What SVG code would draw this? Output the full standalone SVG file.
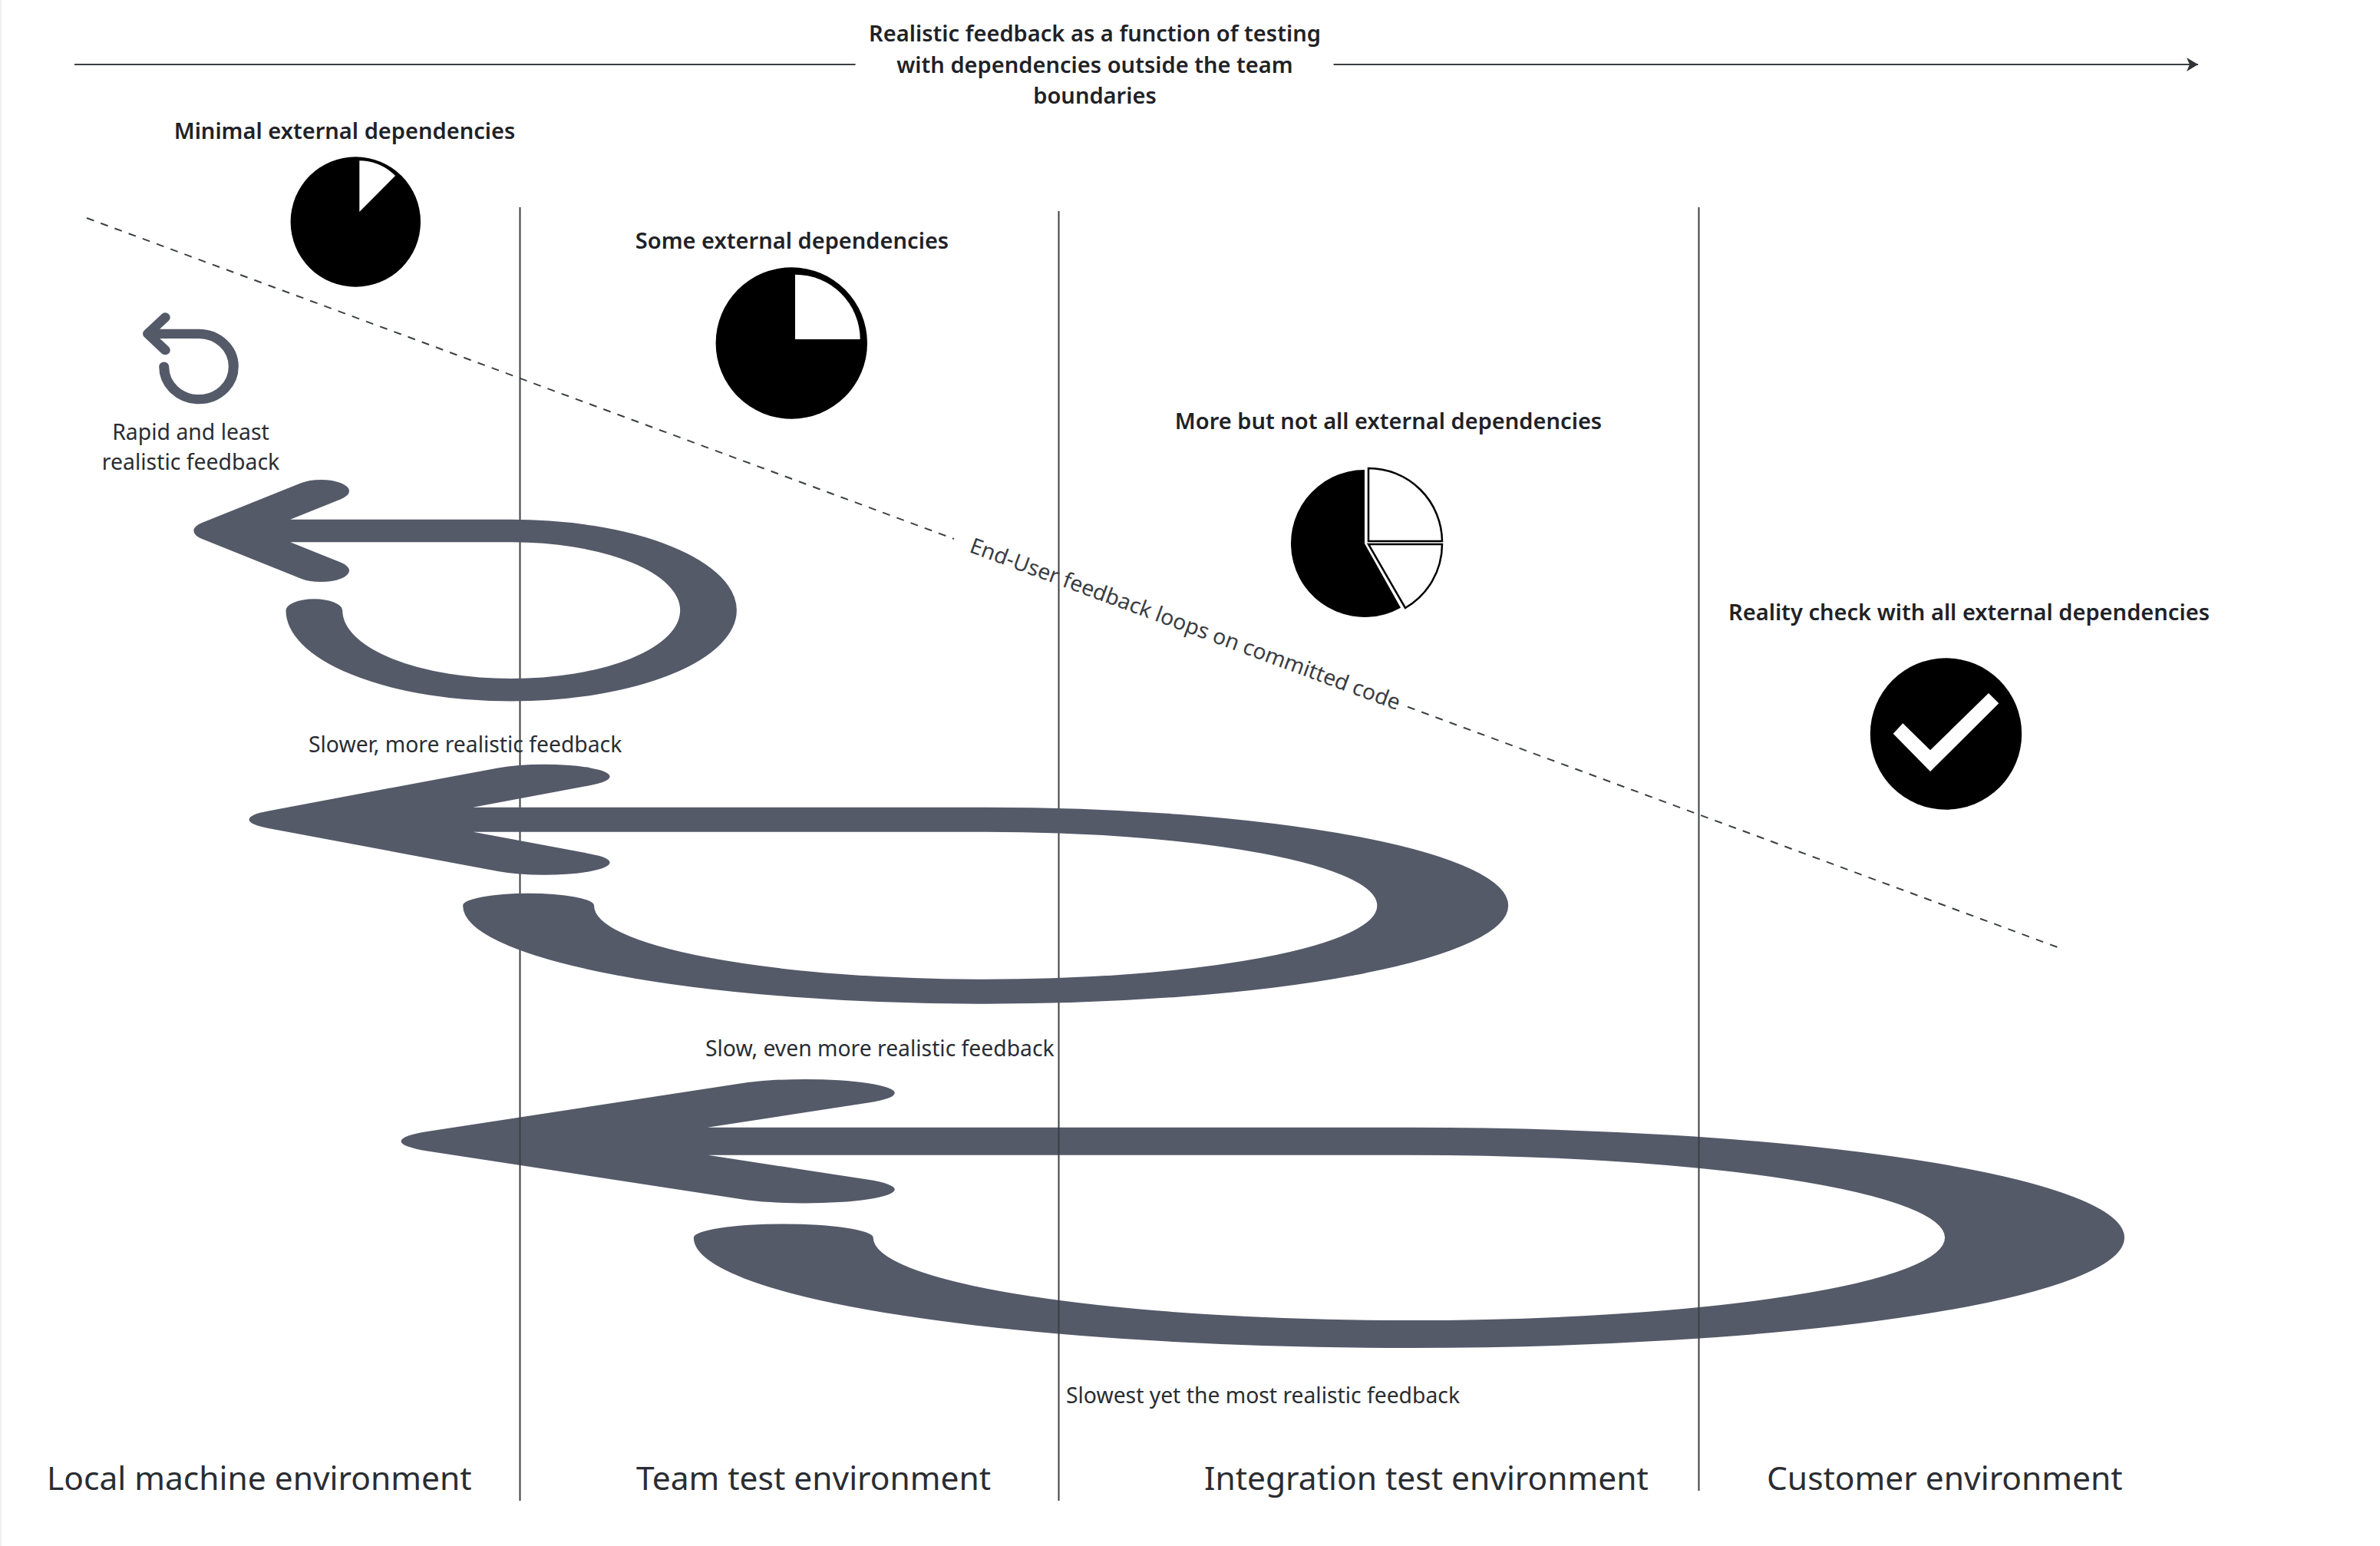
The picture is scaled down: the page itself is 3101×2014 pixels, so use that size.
<svg xmlns="http://www.w3.org/2000/svg" width="3101" height="2014" viewBox="0 0 3101 2014">
<style>
text{font-family:"Noto Sans","Open Sans","Liberation Sans",sans-serif;fill:#2a2d32}
.h{font-size:29.05px;font-weight:600;text-anchor:middle;fill:#1f2227}
.n{font-size:28.4px;text-anchor:middle}
.s{font-size:28.3px}
.b{font-size:42.5px}
.line{stroke:#3c3f44;stroke-width:2;fill:none}
.loop{fill:none;stroke:#555a69;stroke-width:1;stroke-linecap:round;stroke-linejoin:round}
</style>
<defs>
<marker id="head" markerUnits="userSpaceOnUse" markerWidth="18" markerHeight="20" refX="15" refY="9" orient="auto"><path d="M0 0L15 9L0 18L4 9Z" fill="#2f3237"/></marker>
<path id="loop" class="loop" d="M1.63 3.5A3.485 3.5 0 1 0 5.115 0H0M1.75-1.75L0 0L1.75 1.75"/>
</defs>
<rect width="3101" height="2014" fill="#fff"/>
<rect width="2" height="2014" fill="#f0f0f0"/>
<g id="loop-customer"><use href="#loop" transform="matrix(233.9 0 0 35.9 639.5 1486.7)"/></g>
<g id="connectors">
<path class="line" d="M97 84H1114.6"/>
<path class="line" d="M1737.6 84H2864" marker-end="url(#head)"/>
<path class="line" d="M677.5 270V1955"/>
<path class="line" d="M1379.5 275V1955"/>
<path class="line" d="M2213.5 270V1942"/>
<path class="line" stroke-dasharray="10 9.4" d="M113 284L1243 702"/>
<path class="line" stroke-dasharray="10 9.4" d="M1834 920.8L2689 1237"/>
</g>
<g id="loop-local"><use href="#loop" transform="matrix(73.7 0 0 29.6 289.2 691.5)"/></g>
<g id="loop-team"><use href="#loop" transform="matrix(170.9 0 0 32 410 1067.7)"/></g>
<g id="loop-small"><use href="#loop" transform="matrix(13 0 0 12.2 192.5 434.8)"/></g>
<g id="title">
<text class="h" x="1426.5" y="54">Realistic feedback as a function of testing</text>
<text class="h" x="1426.5" y="95">with dependencies outside the team</text>
<text class="h" x="1426.5" y="135">boundaries</text>
</g>
<g id="minimal">
<text class="h" x="449" y="181">Minimal external dependencies</text>
<circle cx="463.3" cy="289" r="84.7" fill="#000"/>
<path d="M468.3 276V209.3A67 67 0 0 1 515 229Z" fill="#fff"/>
</g>
<g id="some">
<text class="h" x="1032" y="323.5">Some external dependencies</text>
<circle cx="1031.3" cy="447" r="98.7" fill="#000"/>
<path d="M1036 442V357.7A84.5 84.5 0 0 1 1120.7 442Z" fill="#fff"/>
</g>
<g id="more">
<text class="h" x="1809" y="558.5">More but not all external dependencies</text>
<path d="M1778 612A96 96 0 1 0 1825 791.7L1778 708Z" fill="#000"/>
<path d="M1783 610V705H1879A96 96 0 0 0 1783 610Z" fill="#fff" stroke="#000" stroke-width="2.5"/>
<path d="M1783 709H1879A96 96 0 0 1 1831 792Z" fill="#fff" stroke="#000" stroke-width="2.5"/>
</g>
<g id="reality">
<text class="h" x="2565.5" y="808">Reality check with all external dependencies</text>
<circle cx="2535.5" cy="956" r="98.7" fill="#000"/>
<path d="M2466.7 955.7L2479.3 942.3L2515 977.3L2591 903L2604.3 916.3L2515 1005Z" fill="#fff"/>
</g>
<g id="labels">
<text class="n" x="248.5" y="573">Rapid and least</text>
<text class="n" x="248.5" y="612">realistic feedback</text>
<text class="s" x="402" y="980">Slower, more realistic feedback</text>
<text class="s" x="919" y="1376">Slow, even more realistic feedback</text>
<text class="s" x="1389" y="1828">Slowest yet the most realistic feedback</text>
<text class="s" text-anchor="middle" transform="translate(1541 822) rotate(20.3)" style="fill:#3a3d42">End-User feedback loops on committed code</text>
<text class="b" x="61" y="1941">Local machine environment</text>
<text class="b" x="829" y="1941">Team test environment</text>
<text class="b" x="1569" y="1941">Integration test environment</text>
<text class="b" x="2302" y="1941">Customer environment</text>
</g>
</svg>
